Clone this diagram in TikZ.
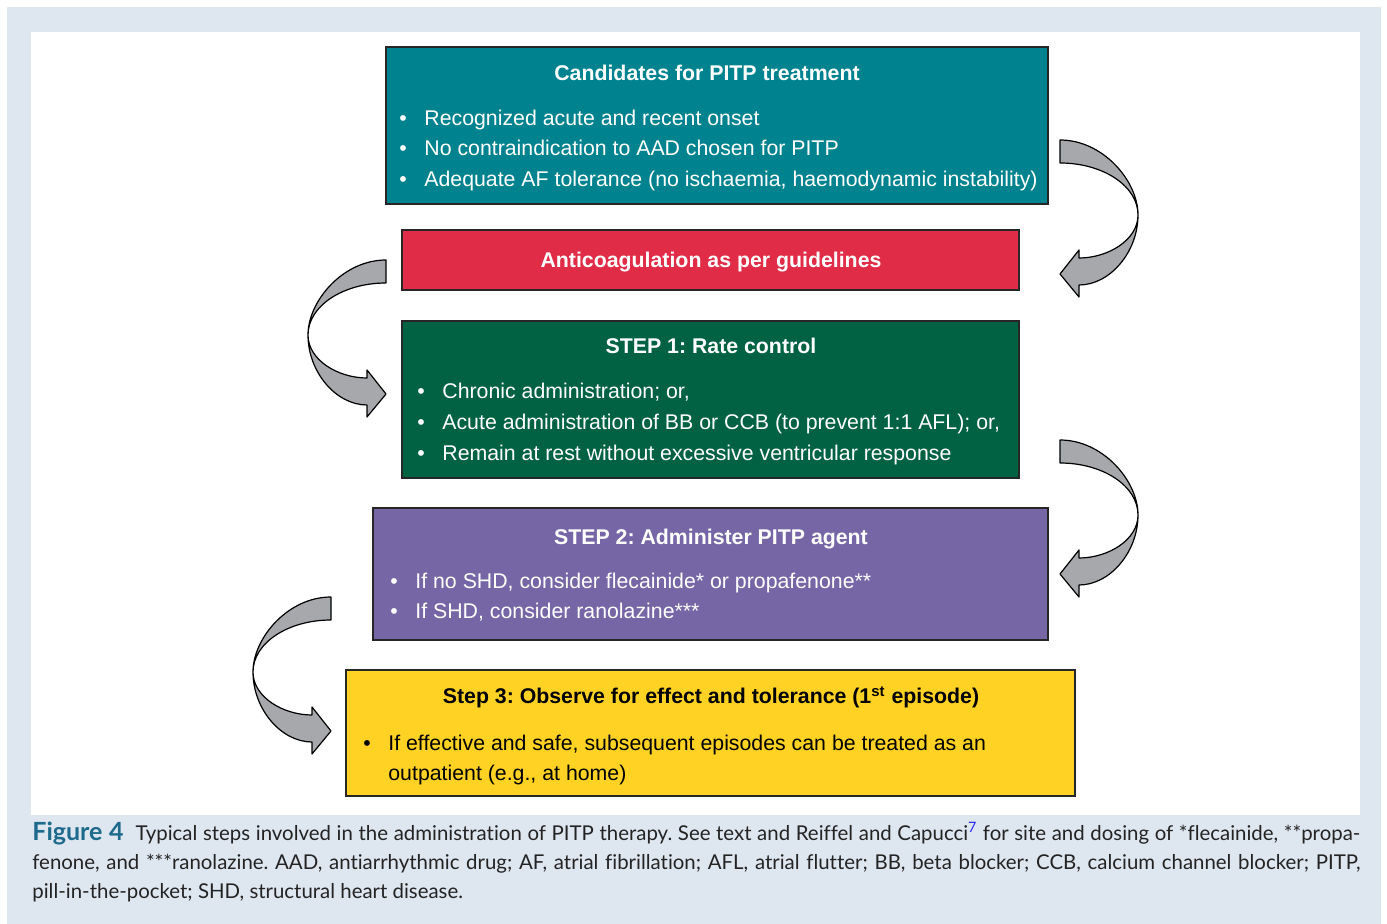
\documentclass[tikz,border=0pt]{standalone}
\usepackage{fontspec}
\setmainfont{Liberation Sans}
\newfontfamily\capfont[Ligatures=NoCommon]{Lato}
\usetikzlibrary{calc}
\frenchspacing
\definecolor{panelbg}{RGB}{222,230,240}
\definecolor{tealbox}{RGB}{0,130,143}
\definecolor{redbox}{RGB}{224,44,70}
\definecolor{greenbox}{RGB}{0,98,66}
\definecolor{purplebox}{RGB}{118,102,166}
\definecolor{yellowbox}{RGB}{255,210,36}
\definecolor{arrowgray}{RGB}{166,168,171}
\definecolor{figblue}{RGB}{30,106,140}
\definecolor{refblue}{RGB}{40,40,255}
\definecolor{capink}{RGB}{35,35,35}
\tikzstyle{stepbox} = [draw=black!85, line width=0.7pt, inner sep=0pt, outer sep=0pt]
\tikzstyle{headtext} = [anchor=base, inner sep=0pt, font=\fontsize{10.65}{13}\selectfont\bfseries]
\tikzstyle{bullettext} = [anchor=base west, inner sep=0pt, font=\fontsize{10.65}{13}\selectfont]
\tikzstyle{captext} = [anchor=base west, inner sep=0pt, text=capink, font=\capfont\fontsize{10.2}{12}\selectfont]
\tikzstyle{bendarrow} = [fill=arrowgray, draw=black, line width=0.6pt, line join=round]
\newcommand\bul{\makebox[12.5pt][l]{\textbullet}}
% #1 tail top, #2: 1 bends out to the left, -1 to the right
\newcommand\turnarrow[2]{
  \begin{scope}[shift={#1}, xscale=#2]
    \draw[bendarrow] (0,0) .. controls (-43,0) and (-78,41) .. (-78,75)
      .. controls (-78,112) and (-50,145) .. (-19,145) -- (-19,157) -- (0,134) -- (-19,110) -- (-19,118)
      .. controls (-48,118) and (-78,100) .. (-78,75)
      .. controls (-78,46) and (-43,23) .. (0,23) -- cycle;
  \end{scope}}

\begin{document}
\begin{tikzpicture}[x=0.5pt, y=-0.5pt]
\useasboundingbox (0,0) rectangle (1387,924);
\fill[white] (0,0) rectangle (1387,924);
\fill[panelbg] (7,7) rectangle (1381,924);
\fill[white] (31,32) rectangle (1360,815);

% boxes
\node[stepbox, fill=tealbox, minimum width=331pt, minimum height=78.5pt] (cand) at (717,125.5) {};
\node[stepbox, fill=redbox, minimum width=308.5pt, minimum height=30pt] (anticoag) at (710.5,260) {};
\node[stepbox, fill=greenbox, minimum width=308.5pt, minimum height=78.5pt] (rate) at (710.5,399.5) {};
\node[stepbox, fill=purplebox, minimum width=337.5pt, minimum height=66pt] (agent) at (710.5,574) {};
\node[stepbox, fill=yellowbox, minimum width=364.5pt, minimum height=63pt] (observe) at (710.5,733) {};

% texts
\node[headtext, text=white] (candhead) at (707,81) {Candidates for PITP treatment};
\node[bullettext, text=white] (cand1) at (399,126) {\bul Recognized acute and recent onset};
\node[bullettext, text=white] (cand2) at (399,156) {\bul No contraindication to AAD chosen for PITP};
\node[bullettext, text=white] (cand3) at (399,187) {\bul Adequate AF tolerance (no ischaemia, haemodynamic instability)};

\node[headtext, text=white] (anticoaghead) at (711,268) {Anticoagulation as per guidelines};

\node[headtext, text=white] (ratehead) at (711,354) {STEP 1: Rate control};
\node[bullettext, text=white] (rate1) at (417,399) {\bul Chronic administration; or,};
\node[bullettext, text=white] (rate2) at (417,430) {\bul Acute administration of BB or CCB (to prevent 1:1 AFL); or,};
\node[bullettext, text=white] (rate3) at (417,461) {\bul Remain at rest without excessive ventricular response};

\node[headtext, text=white] (agenthead) at (711,545) {STEP 2: Administer PITP agent};
\node[bullettext, text=white] (agent1) at (390,589) {\bul If no SHD, consider flecainide* or propafenone**};
\node[bullettext, text=white] (agent2) at (390,619) {\bul If SHD, consider ranolazine***};

\node[headtext, text=black] (observehead) at (711,704) {Step 3: Observe for effect and tolerance (1\textsuperscript{st} episode)};
\node[bullettext, text=black] (observe1) at (363,750) {\bul If effective and safe, subsequent episodes can be treated as an};
\node[bullettext, text=black] (observe2) at (388,780) {outpatient (e.g., at home)};

% curved arrows
\turnarrow{(1060,140)}{-1}
\turnarrow{(386,260)}{1}
\turnarrow{(1060,440)}{-1}
\turnarrow{(331,597)}{1}

% caption
\node[captext] (cap1) at (32,840) {\makebox[664pt][s]{{\bfseries\color{figblue}\fontsize{12.5}{13}\selectfont Figure 4}\hspace{6pt}Typical steps involved in the administration of PITP therapy. See text and Reiffel and Capucci\textsuperscript{\color{refblue}7} for site and dosing of *flecainide, **propa-}};
\node[captext] (cap2) at (32,869) {\makebox[664pt][s]{fenone, and ***ranolazine. AAD, antiarrhythmic drug; AF, atrial fibrillation; AFL, atrial flutter; BB, beta blocker; CCB, calcium channel blocker; PITP,}};
\node[captext] (cap3) at (32,898) {pill-in-the-pocket; SHD, structural heart disease.};
\end{tikzpicture}
\end{document}
